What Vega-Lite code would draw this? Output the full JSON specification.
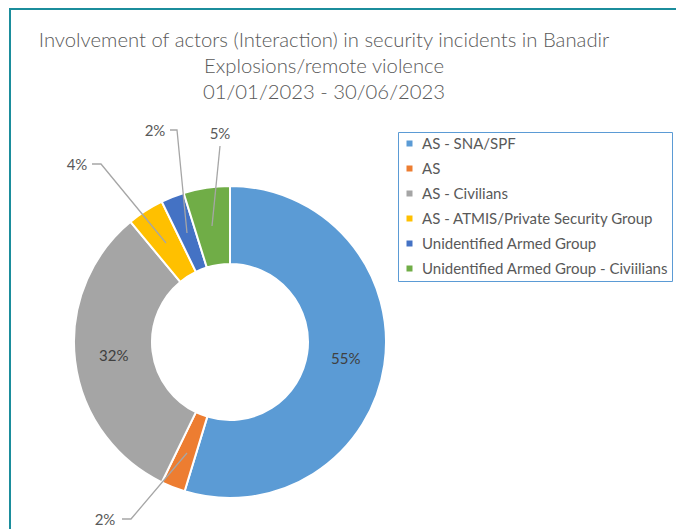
{
  "$schema": "https://vega.github.io/schema/vega-lite/v6.json",
  "width": 680,
  "height": 530,
  "autosize": "none",
  "padding": {"left": 10, "top": 9, "right": 0, "bottom": 0},
  "background": "white",
  "config": {
    "view": {"stroke": "#1b8d9c", "strokeWidth": 2},
    "font": "Lato"
  },
  "title": {
    "text": ["Involvement of actors (Interaction) in security incidents in Banadir", "Explosions/remote violence", "01/01/2023 - 30/06/2023"],
    "font": "Lato",
    "fontSize": 20.3,
    "fontWeight": 300,
    "color": "#595959",
    "lineHeight": 26,
    "anchor": "middle",
    "offset": -94,
    "dx": -26
  },
  "datasets": {
    "slices": [
      {"category": "AS - SNA/SPF", "value": 54.7, "label": "55%", "order": 1},
      {"category": "AS", "value": 2.5, "label": "2%", "order": 2},
      {"category": "AS - Civilians", "value": 31.8, "label": "32%", "order": 3},
      {"category": "AS - ATMIS/Private Security Group", "value": 3.8, "label": "4%", "order": 4},
      {"category": "Unidentified Armed Group", "value": 2.4, "label": "2%", "order": 5},
      {"category": "Unidentified Armed Group - Civiilians", "value": 4.8, "label": "5%", "order": 6}
    ],
    "leaders": [
      {"id": "AS", "seq": 1, "x": -108, "y": -177},
      {"id": "AS", "seq": 2, "x": -99, "y": -177},
      {"id": "AS", "seq": 3, "x": -43, "y": -111},
      {"id": "ATMIS", "seq": 1, "x": -138, "y": 178},
      {"id": "ATMIS", "seq": 2, "x": -129, "y": 178},
      {"id": "ATMIS", "seq": 3, "x": -64, "y": 99},
      {"id": "UAG", "seq": 1, "x": -60, "y": 212},
      {"id": "UAG", "seq": 2, "x": -53, "y": 212},
      {"id": "UAG", "seq": 3, "x": -43, "y": 109},
      {"id": "UAGC", "seq": 1, "x": -10, "y": 196},
      {"id": "UAGC", "seq": 2, "x": -18, "y": 116}
    ],
    "callouts": [
      {"label": "2%", "x": -125, "y": -178},
      {"label": "4%", "x": -153, "y": 177},
      {"label": "2%", "x": -75, "y": 211},
      {"label": "5%", "x": -10, "y": 208}
    ]
  },
  "layer": [
    {
      "data": {"name": "slices"},
      "mark": {"type": "arc", "radius": 156, "radius2": 78, "stroke": "white", "strokeWidth": 2},
      "encoding": {
        "x": {"datum": 0, "type": "quantitative", "scale": {"domain": [-220, 460], "nice": false, "zero": false}, "axis": null},
        "y": {"datum": 0, "type": "quantitative", "scale": {"domain": [-197, 333], "nice": false, "zero": false}, "axis": null},
        "theta": {"field": "value", "type": "quantitative", "stack": true},
        "order": {"field": "order", "type": "quantitative"},
        "color": {
          "field": "category",
          "type": "nominal",
          "sort": null,
          "scale": {
            "domain": ["AS - SNA/SPF", "AS", "AS - Civilians", "AS - ATMIS/Private Security Group", "Unidentified Armed Group", "Unidentified Armed Group - Civiilians"],
            "range": ["#5b9bd5", "#ed7d31", "#a5a5a5", "#ffc000", "#4472c4", "#70ad47"]
          },
          "legend": {
            "title": null,
            "orient": "none",
            "legendX": 388,
            "legendY": 123,
            "strokeColor": "#5b9bd5",
            "padding": 4,
            "rowPadding": 9,
            "symbolType": "square",
            "symbolSize": 36,
            "symbolStrokeWidth": 0,
            "labelFont": "Lato",
            "labelFontSize": 15,
            "labelColor": "#595959",
            "labelLimit": 400,
            "labelOffset": 5
          }
        }
      }
    },
    {
      "data": {"name": "slices"},
      "mark": {"type": "text", "radius": 117, "font": "Lato", "fontSize": 15, "color": "#404040"},
      "encoding": {
        "x": {"datum": 0, "type": "quantitative"},
        "y": {"datum": 0, "type": "quantitative"},
        "theta": {"field": "value", "type": "quantitative", "stack": true},
        "order": {"field": "order", "type": "quantitative"},
        "text": {"condition": {"test": "datum.value > 10", "field": "label"}, "value": ""}
      }
    },
    {
      "data": {"name": "leaders"},
      "mark": {"type": "line", "color": "#a6a6a6", "strokeWidth": 1.3},
      "encoding": {
        "x": {"field": "x", "type": "quantitative"},
        "y": {"field": "y", "type": "quantitative"},
        "detail": {"field": "id"},
        "order": {"field": "seq", "type": "quantitative"}
      }
    },
    {
      "data": {"name": "callouts"},
      "mark": {"type": "text", "font": "Lato", "fontSize": 15, "color": "#595959"},
      "encoding": {
        "x": {"field": "x", "type": "quantitative"},
        "y": {"field": "y", "type": "quantitative"},
        "text": {"field": "label"}
      }
    }
  ]
}
